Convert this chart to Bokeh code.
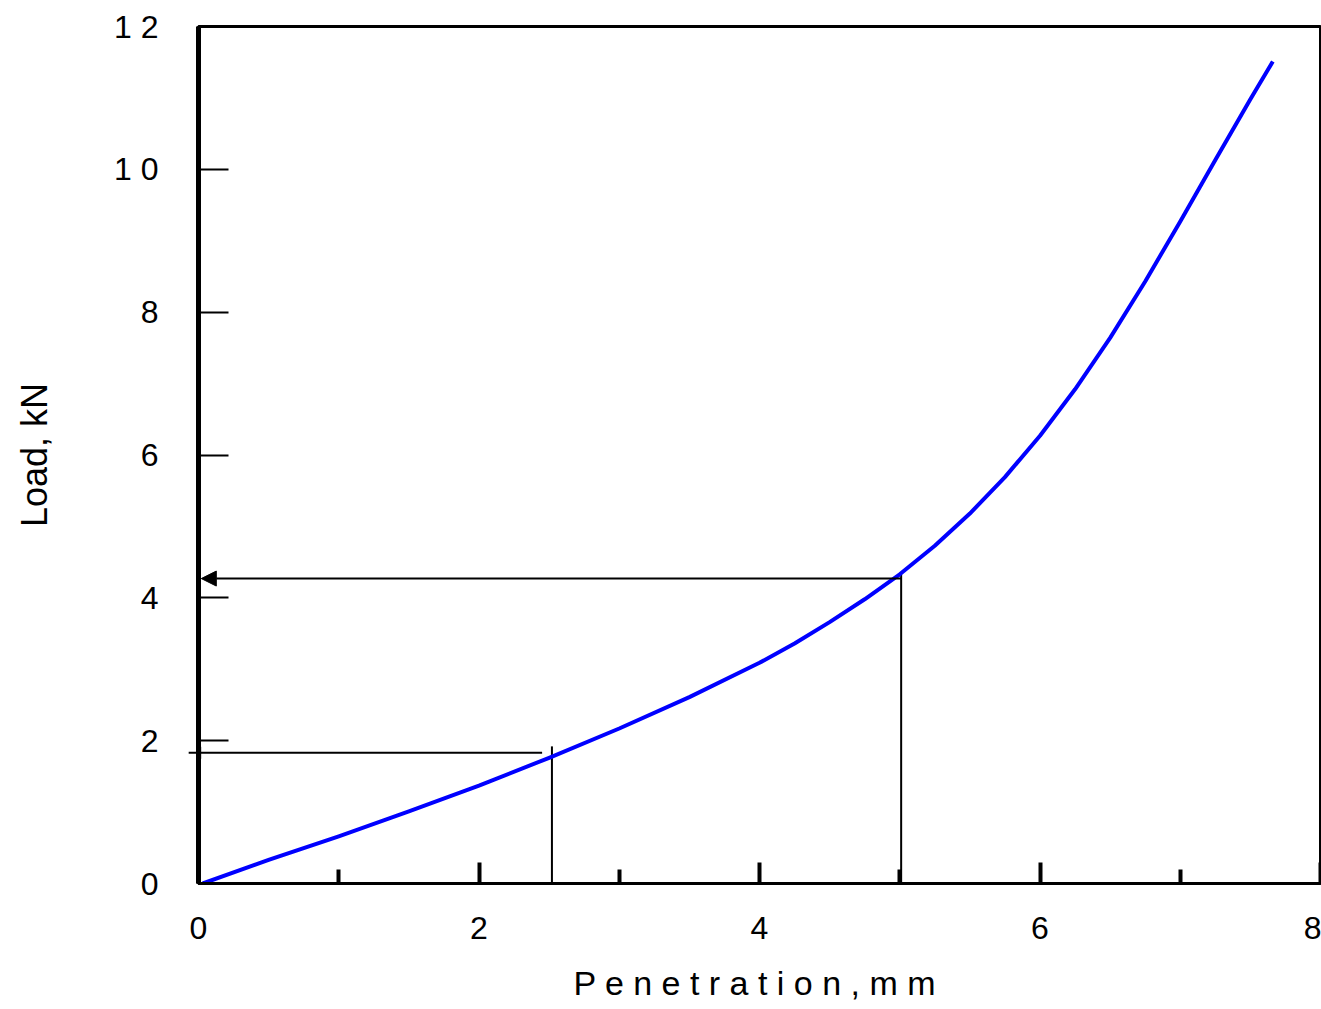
from bokeh.plotting import figure
from bokeh.models import Arrow, NormalHead, FixedTicker, Range1d, ColumnDataSource
from bokeh.embed import file_html
from bokeh.resources import INLINE

# ---- data ----
penetration = [0.03, 0.5, 1.0, 1.5, 2.0, 2.5, 3.0, 3.5, 4.0, 4.25, 4.5, 4.75, 5.0,
               5.25, 5.5, 5.75, 6.0, 6.25, 6.5, 6.75, 7.0, 7.25, 7.5, 7.66]
load = [0.0, 0.33, 0.66, 1.01, 1.37, 1.76, 2.17, 2.61, 3.09, 3.36, 3.66, 3.98, 4.33,
        4.73, 5.18, 5.69, 6.27, 6.92, 7.64, 8.43, 9.27, 10.13, 10.98, 11.51]

x_ticks = [0, 2, 4, 6, 8]
x_minor_ticks = [1, 3, 5, 7]
y_ticks = [0, 2, 4, 6, 8, 10, 12]
y_tick_labels = {10: "1 0", 12: "1 2"}

x_title = "P e n e t r a t i o n ,  m m"
y_title = "Load, kN"

# reading lines: vertical at read_pen up to read_top, horizontal arrow at read_load from read_from to read_tip
read_pen = [2.52, 5.01]
read_top = [1.92, 4.35]
read_load = [1.83, 4.27]
read_from = [2.45, 5.01]
read_tip = [-0.07, 0.02]
head_sizes = [12, 15]

FONT = "Liberation Sans"

p = figure(width=1321, height=1009, x_range=Range1d(0, 8), y_range=Range1d(0, 12),
           output_backend="svg", toolbar_location=None,
           min_border_left=198, min_border_top=26, min_border_right=1, min_border_bottom=126)

p.grid.visible = False
p.outline_line_color = "black"
p.outline_line_width = 3
p.background_fill_color = "white"
p.border_fill_color = "white"

xa = p.xaxis[0]
xa.ticker = FixedTicker(ticks=x_ticks, minor_ticks=x_minor_ticks)
xa.axis_line_width = 3
xa.axis_line_color = "black"
xa.major_tick_in = 21
xa.major_tick_out = 0
xa.major_tick_line_width = 4
xa.minor_tick_in = 14
xa.minor_tick_out = 0
xa.minor_tick_line_width = 4
xa.major_label_standoff = 33
xa.major_label_text_font = FONT
xa.major_label_text_font_size = "32px"
xa.major_label_text_color = "black"
xa.axis_label = x_title
xa.axis_label_standoff = 22
xa.axis_label_text_font = FONT
xa.axis_label_text_font_size = "34px"
xa.axis_label_text_font_style = "normal"
xa.axis_label_text_color = "black"

ya = p.yaxis[0]
ya.ticker = FixedTicker(ticks=y_ticks)
ya.major_label_overrides = y_tick_labels
ya.axis_line_width = 5
ya.axis_line_color = "black"
ya.major_tick_in = 30
ya.major_tick_out = 0
ya.major_tick_line_width = 2
ya.minor_tick_in = 0
ya.minor_tick_out = 0
ya.major_label_standoff = 40
ya.major_label_text_font = FONT
ya.major_label_text_font_size = "32px"
ya.major_label_text_color = "black"
ya.axis_label = y_title
ya.axis_label_standoff = 56
ya.axis_label_text_font = FONT
ya.axis_label_text_font_size = "36px"
ya.axis_label_text_font_style = "normal"
ya.axis_label_text_color = "black"

# reading lines
for xp, top, yl, x0, tip, hs in zip(read_pen, read_top, read_load, read_from, read_tip, head_sizes):
    p.line([xp, xp], [0, top], line_color="black", line_width=2)
    p.add_layout(Arrow(end=NormalHead(size=hs, fill_color="black", line_color="black", line_width=1),
                       x_start=x0, y_start=yl, x_end=tip, y_end=yl,
                       line_color="black", line_width=2))

# load-penetration curve
src = ColumnDataSource(dict(x=penetration, y=load))
p.line("x", "y", source=src, line_color="#0000FF", line_width=4, line_join="round")

open("out.html", "w").write(file_html(p, INLINE))
